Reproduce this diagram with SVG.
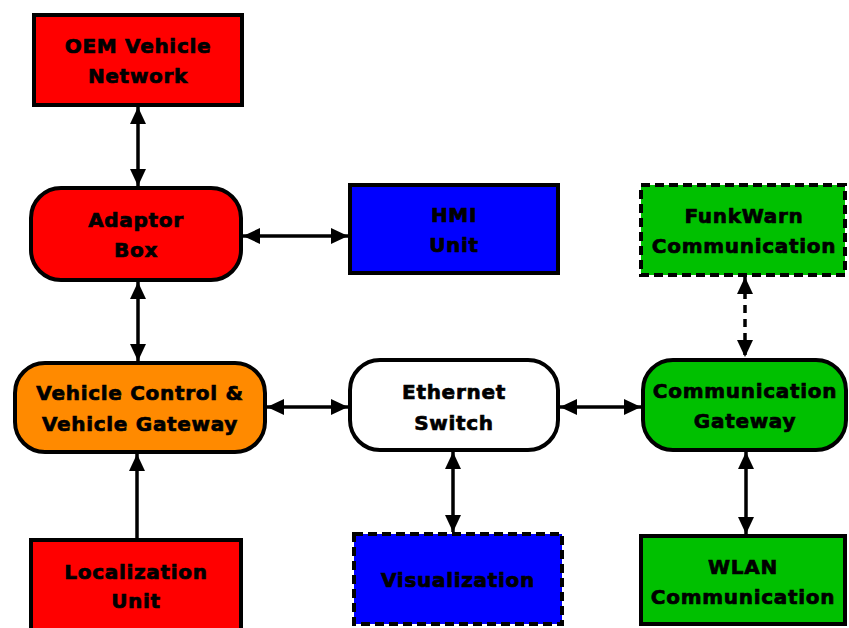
<svg xmlns="http://www.w3.org/2000/svg" width="849" height="628" viewBox="0 0 849 628">
<style>
  .box { stroke: #000; stroke-width: 4; }
  .dash { stroke-dasharray: 9 5; }
  .red { fill: #FF0000; }
  .blue { fill: #0000FF; }
  .green { fill: #00C000; }
  .orange { fill: #FF8A00; }
  .white { fill: #FFFFFF; }
  text { font-family: "DejaVu Sans", "Liberation Sans", sans-serif; font-weight: bold; font-size: 20px; letter-spacing: 0.7px; text-anchor: middle; fill: #000; stroke: #000; stroke-width: 0.7px; }
  .conn line { stroke: #000; stroke-width: 3.5; }
  .conn .dl { stroke-dasharray: 8 6; }
</style>
<defs>
  <marker id="ah" viewBox="0 0 17 16" refX="17" refY="8" markerWidth="17" markerHeight="16" markerUnits="userSpaceOnUse" orient="auto-start-reverse">
    <path d="M0,0 L17,8 L0,16 z" fill="#000"/>
  </marker>
</defs>
<rect width="849" height="628" fill="#FFFFFF"/>

<g class="conn" id="connectors">
  <line x1="138" y1="107" x2="138" y2="186" marker-start="url(#ah)" marker-end="url(#ah)"/>
  <line x1="243" y1="236" x2="348" y2="236" marker-start="url(#ah)" marker-end="url(#ah)"/>
  <line x1="138" y1="282" x2="138" y2="361" marker-start="url(#ah)" marker-end="url(#ah)"/>
  <line x1="137" y1="540" x2="137" y2="454" marker-end="url(#ah)"/>
  <line x1="267" y1="407" x2="348" y2="407" marker-start="url(#ah)" marker-end="url(#ah)"/>
  <line x1="560" y1="407" x2="641" y2="407" marker-start="url(#ah)" marker-end="url(#ah)"/>
  <line x1="453" y1="452" x2="453" y2="532" marker-start="url(#ah)" marker-end="url(#ah)"/>
  <line class="dl" x1="745" y1="277" x2="745" y2="357" marker-start="url(#ah)" marker-end="url(#ah)"/>
  <line x1="746" y1="452" x2="746" y2="534" marker-start="url(#ah)" marker-end="url(#ah)"/>
</g>

<g id="oem">
  <rect class="box red" x="34" y="15" width="208" height="90"/>
  <text x="138" y="53">OEM Vehicle</text>
  <text x="138" y="83">Network</text>
</g>
<g id="adaptor">
  <rect class="box red" x="31" y="188" width="210" height="92" rx="30" ry="30"/>
  <text x="136" y="227">Adaptor</text>
  <text x="136" y="257">Box</text>
</g>
<g id="hmi">
  <rect class="box blue" x="350" y="185" width="208" height="88"/>
  <text x="454" y="222">HMI</text>
  <text x="454" y="252">Unit</text>
</g>
<g id="funkwarn">
  <rect class="box green dash" x="641" y="185" width="204" height="90"/>
  <text x="744" y="223">FunkWarn</text>
  <text x="744" y="253">Communication</text>
</g>
<g id="vehicle-control">
  <rect class="box orange" x="15" y="363" width="250" height="89" rx="30" ry="30"/>
  <text x="140" y="400">Vehicle Control &amp;</text>
  <text x="140" y="431">Vehicle Gateway</text>
</g>
<g id="ethernet">
  <rect class="box white" x="350" y="360" width="208" height="90" rx="30" ry="30"/>
  <text x="454" y="399">Ethernet</text>
  <text x="454" y="430">Switch</text>
</g>
<g id="comm-gateway">
  <rect class="box green" x="643" y="360" width="203" height="90" rx="30" ry="30"/>
  <text x="745" y="398">Communication</text>
  <text x="745" y="428">Gateway</text>
</g>
<g id="localization">
  <rect class="box red" x="31" y="540" width="210" height="94"/>
  <text x="136" y="579">Localization</text>
  <text x="136" y="608">Unit</text>
</g>
<g id="visualization">
  <rect class="box blue dash" x="354" y="534" width="208" height="90"/>
  <text x="458" y="587">Visualization</text>
</g>
<g id="wlan">
  <rect class="box green" x="641" y="536" width="204" height="88"/>
  <text x="743" y="574">WLAN</text>
  <text x="743" y="604">Communication</text>
</g>
</svg>
